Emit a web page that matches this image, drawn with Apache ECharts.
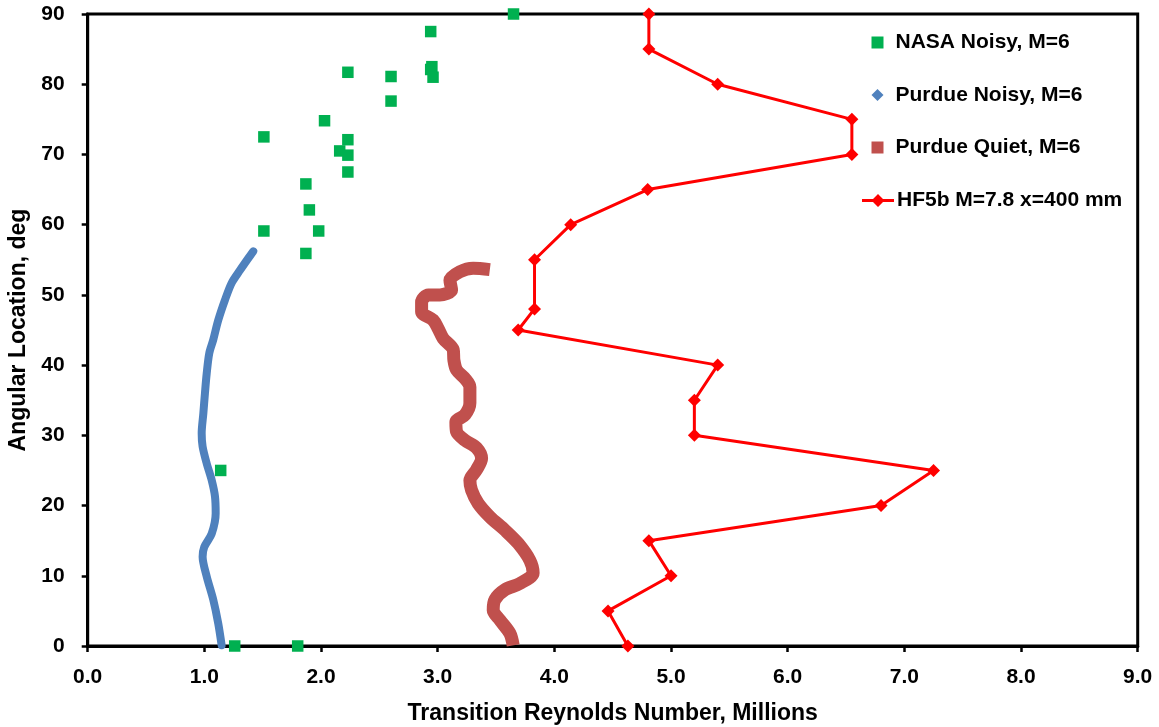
<!DOCTYPE html>
<html>
<head>
<meta charset="utf-8">
<script src="https://cdn.jsdelivr.net/npm/echarts@6/dist/echarts.min.js"></script>
<style>
html,body{margin:0;padding:0;background:#fff;}
#chart{width:1159px;height:727px;}
</style>
</head>
<body>
<div id="chart"></div>
<script>
// ---- Data ----
var seriesNames = ['NASA Noisy, M=6', 'Purdue Noisy, M=6', 'Purdue Quiet, M=6', 'HF5b M=7.8 x=400 mm'];

// NASA Noisy, M=6 : [Re (millions), angle deg]
var nasaNoisy = [
  [3.65, 90.0], [2.94, 87.5], [2.95, 82.5], [2.94, 82.1], [2.96, 81.0],
  [2.23, 81.7], [2.60, 81.1], [2.60, 77.6], [2.03, 74.8], [1.51, 72.5],
  [2.23, 72.1], [2.16, 70.5], [2.23, 69.9], [2.23, 67.5], [1.87, 65.8],
  [1.90, 62.1], [1.51, 59.1], [1.98, 59.1], [1.87, 55.9], [1.14, 25.0],
  [1.26, 0.0], [1.80, 0.0]
];

// Purdue Noisy, M=6 (dense trace)
var purdueNoisy = [
  [1.148, 0.1], [1.119, 3.2], [1.076, 6.6], [1.020, 9.9], [0.985, 12.7],
  [0.999, 14.1], [1.063, 16.0], [1.097, 18.9], [1.091, 21.3], [1.063, 23.6],
  [1.020, 26.0], [0.985, 28.4], [0.977, 30.3], [0.991, 33.1], [1.005, 36.0],
  [1.020, 38.8], [1.042, 41.7], [1.076, 43.6], [1.119, 46.4], [1.177, 49.3],
  [1.234, 51.7], [1.305, 53.5], [1.376, 55.2], [1.419, 56.2]
];

// Purdue Quiet, M=6 (dense trace)
var purdueQuiet = [
  [3.647, 0.1], [3.619, 1.8], [3.533, 3.7], [3.476, 5.1], [3.490, 6.6],
  [3.576, 8.0], [3.704, 8.9], [3.818, 10.4], [3.790, 12.2], [3.690, 14.6],
  [3.576, 16.5], [3.447, 18.4], [3.347, 20.3], [3.290, 22.2], [3.276, 23.6],
  [3.333, 25.1], [3.376, 26.7], [3.333, 28.2], [3.233, 29.3], [3.162, 30.5],
  [3.156, 31.9], [3.233, 32.9], [3.276, 34.6], [3.276, 36.9], [3.233, 38.1],
  [3.162, 39.3], [3.139, 40.7], [3.133, 42.2], [3.047, 43.8], [3.004, 45.2],
  [2.961, 46.4], [2.862, 47.6], [2.862, 49.0], [2.919, 50.0], [3.019, 50.0],
  [3.119, 50.7], [3.105, 52.1], [3.190, 53.3], [3.304, 53.8], [3.447, 53.6]
];

// HF5b M=7.8 x=400 mm
var hf5b = [
  [4.81, 90], [4.81, 85], [5.40, 80], [6.55, 75], [6.55, 70], [4.80, 65],
  [4.14, 60], [3.83, 55], [3.83, 48], [3.69, 45], [5.40, 40], [5.20, 35],
  [5.20, 30], [7.25, 25], [6.80, 20], [4.81, 15], [5.00, 10], [4.46, 5],
  [4.63, 0]
];

var xTicks = [0, 1, 2, 3, 4, 5, 6, 7, 8, 9];
var yTicks = [0, 10, 20, 30, 40, 50, 60, 70, 80, 90];

var FONT = 'Liberation Sans';
var legendText = {fontFamily: FONT, fontWeight: 'bold', fontSize: 21, color: '#000', lineHeight: 20};
var lineDiamondIcon = 'path://M0,5 L11,5 L16,0 L21,5 L32,5 L32,8 L21,8 L16,13 L11,8 L0,8 Z';

var chart = echarts.init(document.getElementById('chart'), null, {renderer: 'canvas'});

chart.setOption({
  animation: false,
  backgroundColor: '#ffffff',
  grid: {
    left: 87.7, right: 21.3, top: 14, bottom: 81,
    outerBoundsMode: 'none', containLabel: false,
    show: true, borderColor: '#000', borderWidth: 3, backgroundColor: 'transparent'
  },
  legend: [
    {
      orient: 'vertical',
      left: 871.5, top: 32, padding: 0,
      itemWidth: 12, itemHeight: 12, itemGap: 31.5,
      textStyle: Object.assign({padding: [0, 0, 0, 7]}, legendText),
      data: [
        {name: seriesNames[0], icon: 'rect'},
        {name: seriesNames[1], icon: 'diamond'},
        {name: seriesNames[2], icon: 'rect'}
      ]
    },
    {
      orient: 'vertical',
      left: 862, top: 190, padding: 0,
      itemWidth: 32, itemHeight: 13,
      textStyle: Object.assign({padding: [0, 0, 0, -2]}, legendText),
      data: [{name: seriesNames[3], icon: lineDiamondIcon}]
    }
  ],
  xAxis: {
    type: 'value',
    min: xTicks[0], max: xTicks[xTicks.length - 1], interval: 1,
    name: 'Transition Reynolds Number, Millions',
    nameLocation: 'middle', nameGap: 56,
    nameTextStyle: {fontFamily: FONT, fontWeight: 'bold', fontSize: 23, color: '#000'},
    axisLine: {show: true, lineStyle: {color: '#000', width: 3}},
    axisTick: {show: true, inside: false, length: 6, lineStyle: {color: '#000', width: 2.5}},
    axisLabel: {
      margin: 21, fontFamily: FONT, fontWeight: 'bold', fontSize: 21, color: '#000',
      formatter: function (v) { return v.toFixed(1); }
    },
    splitLine: {show: false}
  },
  yAxis: {
    type: 'value',
    min: yTicks[0], max: yTicks[yTicks.length - 1], interval: 10,
    name: 'Angular Location, deg',
    nameLocation: 'middle', nameGap: 55,
    nameTextStyle: {fontFamily: FONT, fontWeight: 'bold', fontSize: 23, color: '#000'},
    axisLine: {show: true, lineStyle: {color: '#000', width: 3}},
    axisTick: {show: true, inside: false, length: 6, lineStyle: {color: '#000', width: 2.5}},
    axisLabel: {margin: 23, fontFamily: FONT, fontWeight: 'bold', fontSize: 21, color: '#000'},
    splitLine: {show: false}
  },
  series: [
    {
      name: seriesNames[1], type: 'line', data: purdueNoisy,
      showSymbol: false, symbol: 'diamond', smooth: 0.3,
      color: '#4F81BD',
      lineStyle: {width: 8, color: '#4F81BD', cap: 'round', join: 'round'},
      itemStyle: {color: '#4F81BD'},
      z: 2
    },
    {
      name: seriesNames[2], type: 'line', data: purdueQuiet,
      showSymbol: false, symbol: 'rect', smooth: 0.3,
      color: '#C0504D',
      lineStyle: {width: 13, color: '#C0504D', cap: 'butt', join: 'round'},
      itemStyle: {color: '#C0504D'},
      z: 2
    },
    {
      name: seriesNames[0], type: 'scatter', data: nasaNoisy,
      symbol: 'rect', symbolSize: 11.5,
      color: '#00B050',
      itemStyle: {color: '#00B050', opacity: 1},
      z: 3
    },
    {
      name: seriesNames[3], type: 'line', data: hf5b,
      symbol: 'diamond', symbolSize: 13, showAllSymbol: true,
      color: '#FF0000',
      lineStyle: {width: 3, color: '#FF0000'},
      itemStyle: {color: '#FF0000'},
      z: 4
    }
  ]
});
</script>
</body>
</html>
